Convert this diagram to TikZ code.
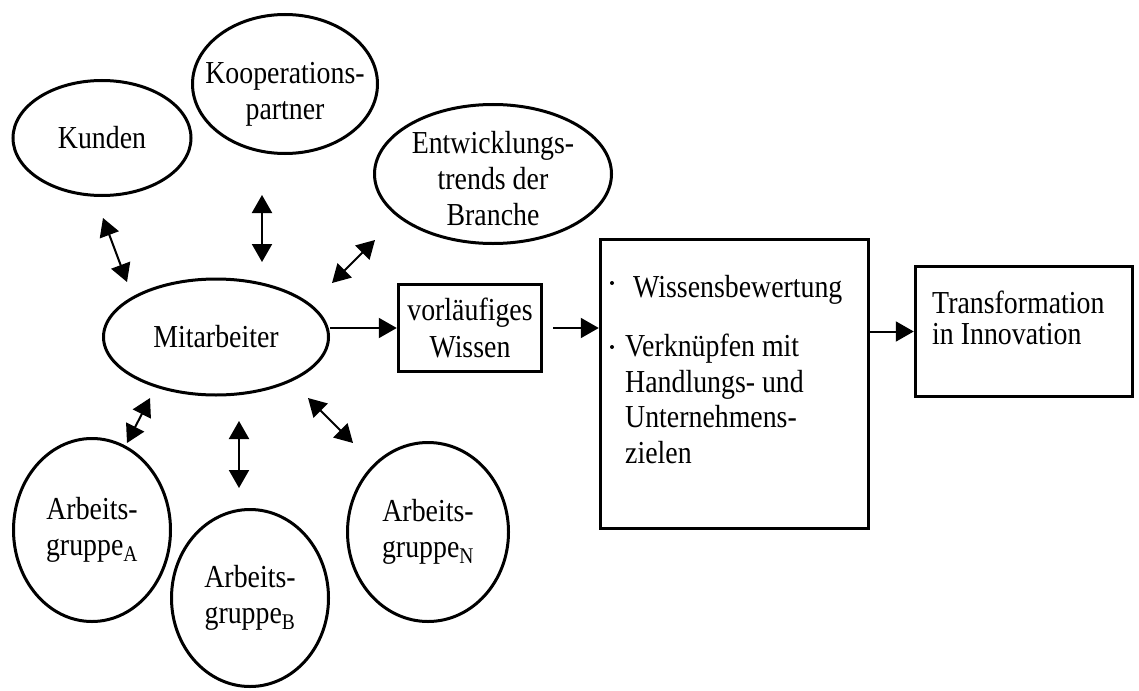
\documentclass[tikz,border=0pt]{standalone}
\usepackage{fontspec}
\setmainfont{Liberation Serif}[FakeStretch=0.87]
\usetikzlibrary{arrows.meta,shapes.geometric}
\begin{document}
\begin{tikzpicture}[x=1pt,y=-1pt,
  every node/.style={font=\fontsize{32}{36}\selectfont, inner sep=0pt},
  oval/.style={ellipse, draw, line width=3pt, align=center},
  box/.style={rectangle, draw, line width=3.5pt, align=center},
  dbl/.style={{Triangle[length=18pt,width=20pt]}-{Triangle[length=18pt,width=20pt]}, line width=2pt},
  sgl/.style={-{Triangle[length=18pt,width=20pt]}, line width=2pt},
  txt/.style={anchor=base west}
]
\useasboundingbox[fill=white] (0,0) rectangle (1139,690);
% ellipses
\node[oval, minimum width=178pt, minimum height=115pt] (kunden) at (102,138) {Kunden};
\node[oval, minimum width=185pt, minimum height=139pt,
  label={[align=center, yshift=-10pt]center:Kooperations-\\partner}] (koop) at (285,84) {};
\node[oval, minimum width=237pt, minimum height=139pt,
  label={[align=center, yshift=-5pt]center:Entwicklungs-\\trends der\\Branche}] (entw) at (493,174) {};
\node[oval, minimum width=225pt, minimum height=116pt] (mit) at (216,337) {Mitarbeiter};
\node[oval, minimum width=157pt, minimum height=183pt] (ga) at (92,530) {Arbeits-\\gruppe\textsubscript{A}};
\node[oval, minimum width=157pt, minimum height=177pt] (gb) at (250,598) {Arbeits-\\gruppe\textsubscript{B}};
\node[oval, minimum width=161pt, minimum height=179pt] (gn) at (428,532) {Arbeits-\\gruppe\textsubscript{N}};
% boxes
\node[box, minimum width=143pt, minimum height=87pt, font=\fontsize{32}{37}\selectfont] (vor) at (470,328) {vorläufiges\\Wissen};
\node[box, minimum width=268pt, minimum height=289pt] (big) at (734.5,384) {};
\node[box, minimum width=217pt, minimum height=130pt] (trans) at (1024,331.5) {};
% texts in boxes
\fill (612,283) circle (2pt);
\fill (612,347) circle (2pt);
\node[txt] (w1) at (633,297) {Wissensbewertung};
\node[txt] (v1) at (625,356) {Verknüpfen mit};
\node[txt] (v2) at (625,392) {Handlungs- und};
\node[txt] (v3) at (625,427) {Unternehmens-};
\node[txt] (v4) at (625,463) {zielen};
\node[txt] (t1) at (932,313) {Transformation};
\node[txt] (t2) at (932,344) {in Innovation};
% arrow end points
\coordinate (k1) at (103,218); \coordinate (k2) at (127,282);
\coordinate (p1) at (262,195); \coordinate (p2) at (262,262);
\coordinate (e1) at (375,240); \coordinate (e2) at (332,283);
\coordinate (a1) at (150,398); \coordinate (a2) at (127,443);
\coordinate (b1) at (239,421); \coordinate (b2) at (239,488);
\coordinate (n1) at (308,398); \coordinate (n2) at (353,443);
\draw[dbl] (k1) -- (k2);
\draw[dbl] (p1) -- (p2);
\draw[dbl] (e1) -- (e2);
\draw[dbl] (a1) -- (a2);
\draw[dbl] (b1) -- (b2);
\draw[dbl] (n1) -- (n2);
\draw[sgl] (mit.east |- vor.west) -- (vor.west);
\draw[sgl, shorten <=10pt] (vor.east) -- (vor.east -| big.west);
\draw[sgl] (big.east |- trans.west) -- (trans.west);
\end{tikzpicture}
\end{document}
